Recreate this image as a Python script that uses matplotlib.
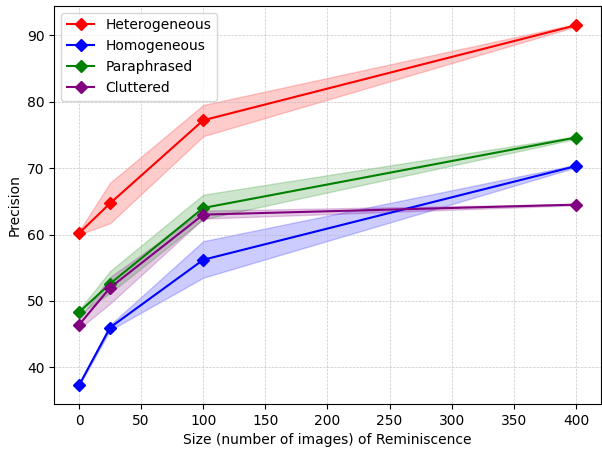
import matplotlib
matplotlib.use("Agg")
import matplotlib.pyplot as plt

sizes = [0, 25, 100, 400]

hetero = [60.2, 64.7, 77.2, 91.5]
hetero_lo = [60.0, 61.7, 74.8, 91.3]
hetero_hi = [60.5, 67.8, 79.5, 91.7]

homo = [37.3, 46.0, 56.2, 70.3]
homo_lo = [37.2, 45.6, 53.5, 70.1]
homo_hi = [37.4, 46.4, 59.0, 70.5]

para = [48.3, 52.6, 64.0, 74.6]
para_lo = [48.0, 51.2, 62.3, 74.4]
para_hi = [48.6, 54.5, 66.0, 74.8]

clutter = [46.4, 52.0, 63.0, 64.5]
clutter_lo = [45.8, 49.6, 62.4, 64.4]
clutter_hi = [47.2, 53.6, 63.6, 64.6]

series = [
    ("Heterogeneous", hetero, hetero_lo, hetero_hi, "red"),
    ("Homogeneous", homo, homo_lo, homo_hi, "blue"),
    ("Paraphrased", para, para_lo, para_hi, "green"),
    ("Cluttered", clutter, clutter_lo, clutter_hi, "purple"),
]

fig, ax = plt.subplots(figsize=(6.02, 4.49), dpi=100)
for name, vals, lo, hi, col in series:
    ax.plot(sizes, vals, marker="D", color=col, label=name, markersize=6)
    ax.fill_between(sizes, lo, hi, color=col, alpha=0.2)

ax.set_xlabel("Size (number of images) of Reminiscence")
ax.set_ylabel("Precision")
ax.grid(True, linestyle="--", linewidth=0.5, alpha=0.7)
ax.legend(loc="upper left")
fig.subplots_adjust(left=0.09, right=0.998, top=0.987, bottom=0.1)
plt.savefig("out.png", dpi=100)
